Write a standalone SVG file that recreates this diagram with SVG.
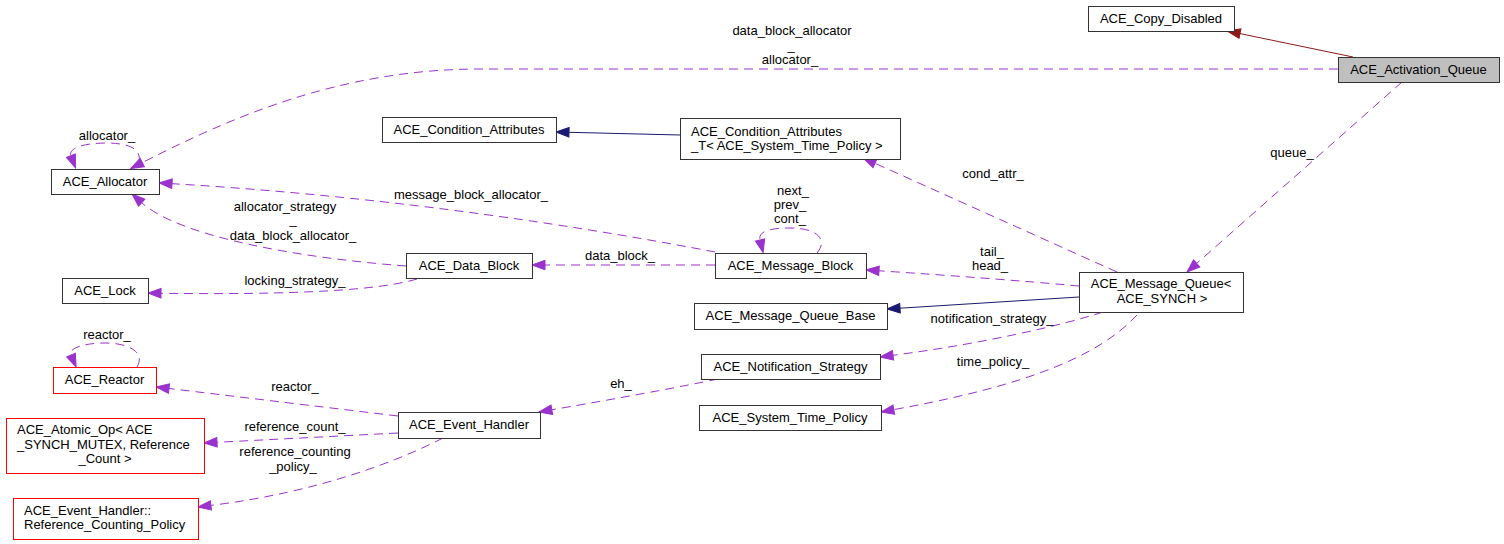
<svg xmlns="http://www.w3.org/2000/svg" width="1504" height="544" viewBox="0 0 1504 544">
<style>
text{font-family:"Liberation Sans",Arial,Helvetica,sans-serif;font-size:13px;fill:#000}
.n rect{fill:#fff;stroke:#333;stroke-width:1}
.n.red rect{stroke:#ff0000}
.n.cur rect{fill:#bfbfbf}
.c{text-anchor:middle}
.e{fill:none;stroke-width:1}
.d{stroke:#9a32cd;stroke-dasharray:9,6;marker-end:url(#ap)}
.b{stroke:#191970;marker-end:url(#ab)}
.r{stroke:#8b1a1a;marker-end:url(#ar)}
</style>
<defs>
<marker id="ap" markerUnits="userSpaceOnUse" markerWidth="13" markerHeight="10" refX="0" refY="4.75" orient="auto" overflow="visible"><path d="M0,0 L13,4.75 L0,9.5 z" fill="#9a32cd" stroke="#9a32cd" stroke-width="1"/></marker>
<marker id="ab" markerUnits="userSpaceOnUse" markerWidth="13" markerHeight="10" refX="0" refY="4.75" orient="auto" overflow="visible"><path d="M0,0 L13,4.75 L0,9.5 z" fill="#191970" stroke="#191970" stroke-width="1"/></marker>
<marker id="ar" markerUnits="userSpaceOnUse" markerWidth="13" markerHeight="10" refX="0" refY="4.75" orient="auto" overflow="visible"><path d="M0,0 L13,4.75 L0,9.5 z" fill="#8b1a1a" stroke="#8b1a1a" stroke-width="1"/></marker>
</defs>
<rect width="1504" height="544" fill="#fff"/>
<g id="connectors">
<path class="e r" d="M1353,57 L1240,33.6"/>
<path class="e d" d="M1338,69 L480,69 C340,69 230,118 142.3,162.6"/>
<text class="c" x="792" y="35">data_block_allocator</text>
<text class="c" x="791" y="49.5">_</text>
<text class="c" x="790" y="64">allocator_</text>
<path class="e d" d="M1402,82 L1196.7,263.4"/>
<text class="c" x="1292" y="157">queue_</text>
<path class="e d" d="M1117,272 L875,163.3"/>
<text class="c" x="993" y="178">cond_attr_</text>
<path class="e d" d="M1079,286 Q990,278 879,270.8"/>
<text class="c" x="992" y="256">tail_</text>
<text class="c" x="990" y="270">head_</text>
<path class="e b" d="M1079,297 L900,308.2"/>
<path class="e d" d="M1103,312 C1060,326 980,344 893,355.3"/>
<text class="c" x="992" y="323">notification_strategy_</text>
<path class="e d" d="M1137,315 C1100,355 1030,385 893.8,409.6"/>
<text class="c" x="993" y="366">time_policy_</text>
<path class="e b" d="M680,135 L569,132.3"/>
<path class="e d" d="M715,252 C600,230 400,197 172,183.7"/>
<text class="c" x="471" y="199">message_block_allocator_</text>
<path class="e d" d="M817,253 C828,240 818,228 790,228 C768,228 758,232 760,240"/>
<text class="c" x="793" y="195">next_</text>
<text class="c" x="790" y="209">prev_</text>
<text class="c" x="790" y="223">cont_</text>
<path class="e d" d="M715,265 L545,265"/>
<text class="c" x="620" y="260">data_block_</text>
<path class="e d" d="M406,266 C300,258 180,237 141.7,202.7"/>
<text class="c" x="285" y="211">allocator_strategy</text>
<text class="c" x="293" y="224">_</text>
<text class="c" x="293" y="240">data_block_allocator_</text>
<path class="e d" d="M417,279 C380,290 300,295 161,293.3"/>
<text class="c" x="295" y="285">locking_strategy_</text>
<path class="e d" d="M139,162 C142,147 125,143 105,143 C85,143 68,148 70.9,155.7"/>
<text class="c" x="107" y="140">allocator_</text>
<path class="e d" d="M137,367 C146,352 128,343 105,343 C85,343 68,348 71,355"/>
<text class="c" x="107" y="339">reactor_</text>
<path class="e d" d="M398,416 L169,388.5"/>
<text class="c" x="295" y="391">reactor_</text>
<path class="e d" d="M398,433 L217,442.3"/>
<text class="c" x="295" y="431">reference_count_</text>
<path class="e d" d="M443,438 C400,460 320,492 210.9,505.4"/>
<text class="c" x="295" y="456">reference_counting</text>
<text class="c" x="293" y="471">_policy_</text>
<path class="e d" d="M718,379 C680,387 620,398 551.8,409.8"/>
<text class="c" x="621" y="388">eh_</text>
</g>
<g id="ACE_Copy_Disabled" class="n"><rect x="1088.5" y="6.5" width="146" height="25"/><text class="c" x="1161" y="22.5">ACE_Copy_Disabled</text></g>
<g id="ACE_Activation_Queue" class="n cur"><rect x="1338.5" y="57.5" width="161" height="25"/><text class="c" x="1418.5" y="73.5">ACE_Activation_Queue</text></g>
<g id="ACE_Message_Queue" class="n"><rect x="1079.5" y="272.5" width="164" height="40"/><text class="c" x="1161" y="288">ACE_Message_Queue&lt;</text><text class="c" x="1162" y="303">ACE_SYNCH &gt;</text></g>
<g id="ACE_Allocator" class="n"><rect x="51.5" y="169.5" width="108" height="25"/><text class="c" x="105" y="185.5">ACE_Allocator</text></g>
<g id="ACE_Condition_Attributes" class="n"><rect x="382.5" y="117.5" width="174" height="25"/><text class="c" x="469" y="133.5">ACE_Condition_Attributes</text></g>
<g id="ACE_Condition_Attributes_T" class="n"><rect x="680.5" y="118.5" width="220" height="41"/><text x="691" y="135.5">ACE_Condition_Attributes</text><text x="691" y="149.5">_T&lt; ACE_System_Time_Policy &gt;</text></g>
<g id="ACE_Data_Block" class="n"><rect x="406.5" y="253.5" width="126" height="25"/><text class="c" x="469" y="269.5">ACE_Data_Block</text></g>
<g id="ACE_Message_Block" class="n"><rect x="715.5" y="253.5" width="151" height="25"/><text class="c" x="790.5" y="269.5">ACE_Message_Block</text></g>
<g id="ACE_Lock" class="n"><rect x="62.5" y="278.5" width="86" height="25"/><text class="c" x="105" y="294.5">ACE_Lock</text></g>
<g id="ACE_Message_Queue_Base" class="n"><rect x="694.5" y="303.5" width="193" height="26"/><text class="c" x="790.5" y="320">ACE_Message_Queue_Base</text></g>
<g id="ACE_Notification_Strategy" class="n"><rect x="701.5" y="354.5" width="179" height="25"/><text class="c" x="790.5" y="370.5">ACE_Notification_Strategy</text></g>
<g id="ACE_System_Time_Policy" class="n"><rect x="699.5" y="405.5" width="182" height="25"/><text class="c" x="790" y="421.5">ACE_System_Time_Policy</text></g>
<g id="ACE_Event_Handler" class="n"><rect x="398.5" y="412.5" width="142" height="26"/><text class="c" x="469" y="429">ACE_Event_Handler</text></g>
<g id="ACE_Reactor" class="n red"><rect x="53.5" y="367.5" width="103" height="26"/><text class="c" x="104.5" y="384">ACE_Reactor</text></g>
<g id="ACE_Atomic_Op" class="n red"><rect x="6.5" y="418.5" width="198" height="55"/><text x="17" y="434">ACE_Atomic_Op&lt; ACE</text><text x="17" y="448.5">_SYNCH_MUTEX, Reference</text><text class="c" x="105" y="463">_Count &gt;</text></g>
<g id="ACE_Reference_Counting_Policy" class="n red"><rect x="13.5" y="498.5" width="185" height="41"/><text x="24" y="515">ACE_Event_Handler::</text><text x="24" y="529">Reference_Counting_Policy</text></g>
</svg>
